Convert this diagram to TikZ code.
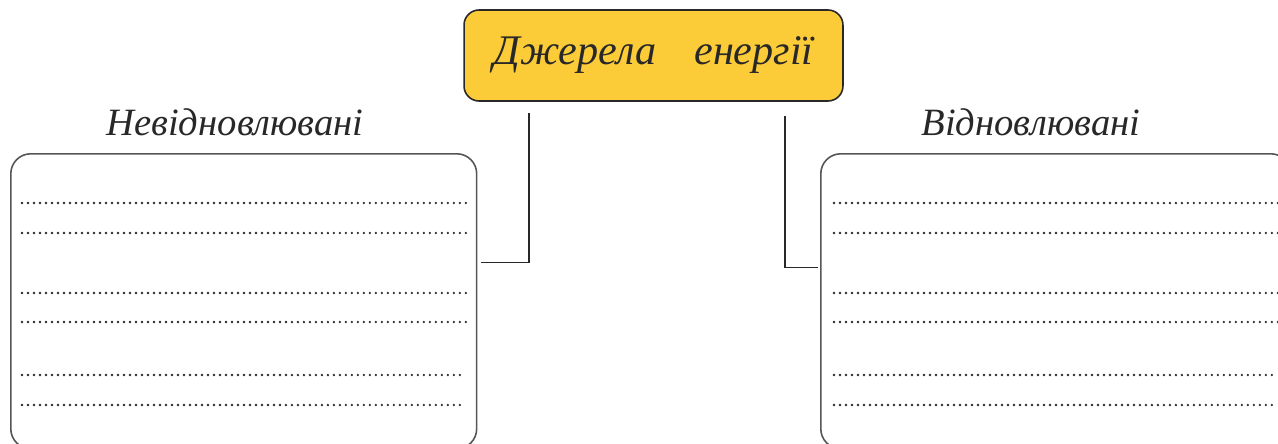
\documentclass[tikz,border=0pt]{standalone}
\usepackage{fontspec}
\setmainfont{Liberation Serif}
\usetikzlibrary{positioning, calc}
\definecolor{titleyellow}{RGB}{252,204,56}
\definecolor{inkgrey}{RGB}{40,40,40}
\definecolor{boxgrey}{RGB}{85,85,85}

\begin{document}
\begin{tikzpicture}[x=0.02cm, y=-0.02cm,
    font=\fontsize{22}{26}\selectfont\itshape, text=inkgrey,
    titlebox/.style={draw=inkgrey, line width=0.9pt, fill=titleyellow, rounded corners=0.3cm,
        minimum width=7.58cm, minimum height=1.82cm, inner sep=0pt,
        font=\fontsize{24}{28}\selectfont\itshape},
    answerbox/.style={draw=boxgrey, line width=0.9pt, rounded corners=0.4cm,
        minimum height=5.9cm, inner sep=0pt, anchor=north west},
    link/.style={draw=inkgrey, line width=0.8pt},
    dotline/.style={draw=inkgrey, line width=1.5pt, line cap=round, dash pattern=on 0pt off 0.12cm}]
    \useasboundingbox (0,0) rectangle (1278,443);
    \node[titlebox] (title) at (653.5,55.5) {Джерела\hspace{0.9em}енергії};
    \node (nonren) at (235,122) {Невідновлювані};
    \node (ren) at (1031,122) {Відновлювані};
    \node[answerbox, minimum width=9.32cm] (lbox) at (10,153) {};
    \node[answerbox, minimum width=9.4cm] (rbox) at (820,153) {};
    % connectors
    \draw[link] ([xshift=-2.49cm, yshift=-0.22cm]title.south) |- ([xshift=0.08cm, yshift=0.77cm]lbox.east);
    \draw[link] ([xshift=2.63cm, yshift=-0.28cm]title.south) |- ([xshift=-0.04cm, yshift=0.67cm]rbox.west);
    % lines to write on
    \foreach \y/\l/\r in {203/466/1278, 233/466/1278, 293/466/1278, 322/466/1278, 375/461/1273, 405/461/1273} {
        \draw[dotline] (22,\y) -- (\l,\y);
        \draw[dotline] (834,\y) -- (\r,\y);
    }
\end{tikzpicture}
\end{document}
